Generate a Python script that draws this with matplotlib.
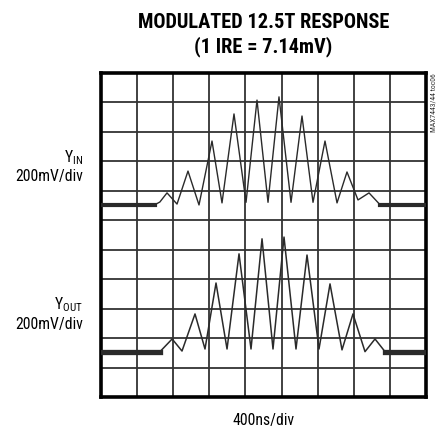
import matplotlib
matplotlib.use("Agg")
import matplotlib.pyplot as plt

# ---- data (in scope divisions: x 0..9, y 0..11 from bottom) ----
yin_x = [0.0, 1.495, 1.63, 1.828, 2.105, 2.409, 2.714, 3.074, 3.351, 3.683, 4.016,
         4.32, 4.625, 4.929, 5.262, 5.566, 5.871, 6.203, 6.536, 6.812, 7.117,
         7.422, 7.726, 9.0]
yin_y = [6.53, 6.53, 6.62, 6.93, 6.55, 7.67, 6.52, 8.69, 6.59, 9.61, 6.61,
         10.08, 6.61, 10.19, 6.61, 9.54, 6.61, 8.69, 6.59, 7.64, 6.69,
         6.93, 6.53, 6.53]

yout_x = [0.0, 1.634, 1.97, 2.243, 2.603, 2.88, 3.185, 3.49, 3.822, 4.154, 4.459,
          4.763, 5.068, 5.4, 5.705, 6.037, 6.342, 6.674, 6.978, 7.311, 7.588,
          7.865, 9.0]
yout_y = [1.54, 1.54, 1.97, 1.56, 2.82, 1.63, 3.87, 1.63, 4.86, 1.63, 5.37,
          1.63, 5.43, 1.63, 4.82, 1.63, 3.84, 1.60, 2.82, 1.54, 1.97,
          1.54, 1.54]

title_lines = ["MODULATED 12.5T RESPONSE", "(1 IRE = 7.14mV)"]
x_label = "400ns/div"
scale_label = "200mV/div"
n_xdiv, n_ydiv = 9, 11

W, H = 437, 431
fig = plt.figure(figsize=(W / 100, H / 100), dpi=100)
renderer = fig.canvas.get_renderer()
ax = fig.add_axes([101 / W, 1 - 398 / H, 325 / W, 324 / H])
ax.set_xlim(0, n_xdiv)
ax.set_ylim(0, n_ydiv)
ax.set_xticks([])
ax.set_yticks([])
for i in range(1, n_xdiv):
    ax.axvline(i, color="#333333", lw=1.3, zorder=1)
for j in range(1, n_ydiv):
    ax.axhline(j, color="#333333", lw=1.3, zorder=1)
for s in ax.spines.values():
    s.set_linewidth(2.6)
    s.set_color("black")

trace_col = "#2a2a2a"
ax.plot(yin_x, yin_y, color=trace_col, lw=1.0, zorder=3)
ax.plot(yout_x, yout_y, color=trace_col, lw=1.1, zorder=3)
ax.plot(yin_x[:2], yin_y[:2], color=trace_col, lw=3.0, zorder=3)
ax.plot(yin_x[-2:], yin_y[-2:], color=trace_col, lw=3.0, zorder=3)
ax.plot(yout_x[:2], yout_y[:2], color=trace_col, lw=3.8, zorder=3)
ax.plot(yout_x[-2:], yout_y[-2:], color=trace_col, lw=3.8, zorder=3)

FONT = ["Roboto Condensed", "DejaVu Sans"]


def put(x, y, s, width=None, size=11, **kw):
    t = fig.text(x / W, 1 - y / H, s, family=FONT, fontsize=size, **kw)
    if width is not None:
        w = t.get_window_extent(renderer).width
        t.set_fontsize(size * width / w)
    return t


t1 = put(263.5, 22.5, title_lines[0], width=253, size=14, ha="center", va="center",
         fontweight="bold")
put(263.5, 47, title_lines[1], size=t1.get_fontsize(), ha="center", va="center",
    fontweight="bold")

s = put(83, 177, scale_label, width=68, ha="right", va="center")
fs = s.get_fontsize()
put(83, 325, scale_label, size=fs, ha="right", va="center")
put(83, 158, r"Y$_{\mathregular{IN}}$", size=fs, ha="right", va="center")
put(83, 305, r"Y$_{\mathregular{OUT}}$", size=fs, ha="right", va="center")
put(263.5, 421, x_label, size=fs, ha="center", va="center")
put(434, 73, "MAX7443/44 toc06", size=5.5, ha="center", va="top", rotation=90,
    color="#333333")

fig.savefig("out.png", dpi=100)
